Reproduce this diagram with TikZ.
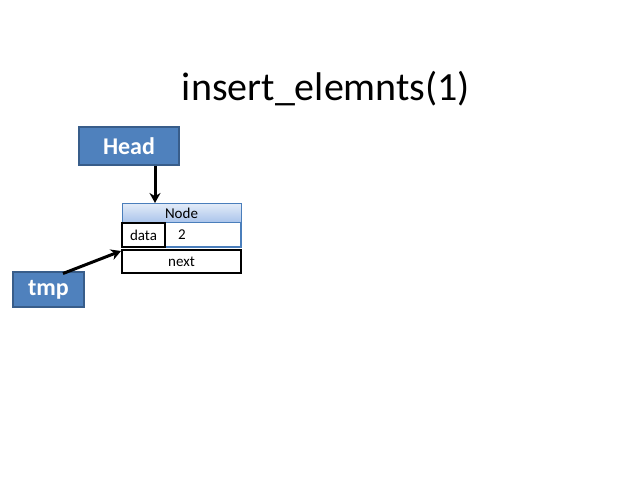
\documentclass[tikz,border=0pt]{standalone}
\usepackage{fontspec}
\setmainfont{Carlito}
\usetikzlibrary{arrows.meta}
\definecolor{boxfill}{HTML}{4F81BD}
\definecolor{boxline}{HTML}{385D8A}
\definecolor{hdtop}{HTML}{E4ECF8}
\definecolor{hdbot}{HTML}{A9C4EB}
\definecolor{cellline}{HTML}{4A7EBB}
\tikzset{
  ptr/.style={draw=boxline, line width=1.2pt, fill=boxfill, text=white,
    font=\fontsize{24}{26}\selectfont\bfseries, inner sep=0pt},
  field/.style={inner sep=0pt, font=\fontsize{15}{17}\selectfont},
  link/.style={line width=3pt, -{Stealth[length=10pt,width=11pt]}},
}
\begin{document}
\begin{tikzpicture}[x=1pt,y=-1pt]
\useasboundingbox[fill=white] (0,0) rectangle (634,480);

% title
\node[inner sep=0pt, font=\fontsize{40}{44}\selectfont, anchor=base] (title) at (326,100) {insert\_elemnts(1)};

% pointer boxes
\node[ptr, minimum width=100pt, minimum height=38pt] (head) at (129,146) {Head};
\node[ptr, minimum width=71pt, minimum height=35pt] (tmp) at (48.5,289.5) {tmp};

% list node: header, data row, next row
\shade[top color=hdtop, bottom color=hdbot, draw=cellline, line width=0.8pt] (122,203) rectangle (241,222.5);
\node[field] (nodehdr) at (181.5,213) {Node};
\draw[draw=cellline, line width=1.2pt] (122,222.5) rectangle (241,247);
\draw[line width=1.5pt] (122,223) rectangle (165,247);
\node[field] (datalbl) at (143.5,235) {data};
\node[field] (dataval) at (182,235) {2};
\draw[line width=1.5pt] (122,250) rectangle (241,273);
\node[field] (nextlbl) at (181.5,262) {next};

\coordinate (nodetop) at (155,203);
\coordinate (nextin) at (121,251);
\coordinate (tmpout) at (63,273.5);

% connectors
\draw[link] (head.south -| nodetop) -- (nodetop);
\draw[link] (tmpout) -- (nextin);
\end{tikzpicture}
\end{document}
